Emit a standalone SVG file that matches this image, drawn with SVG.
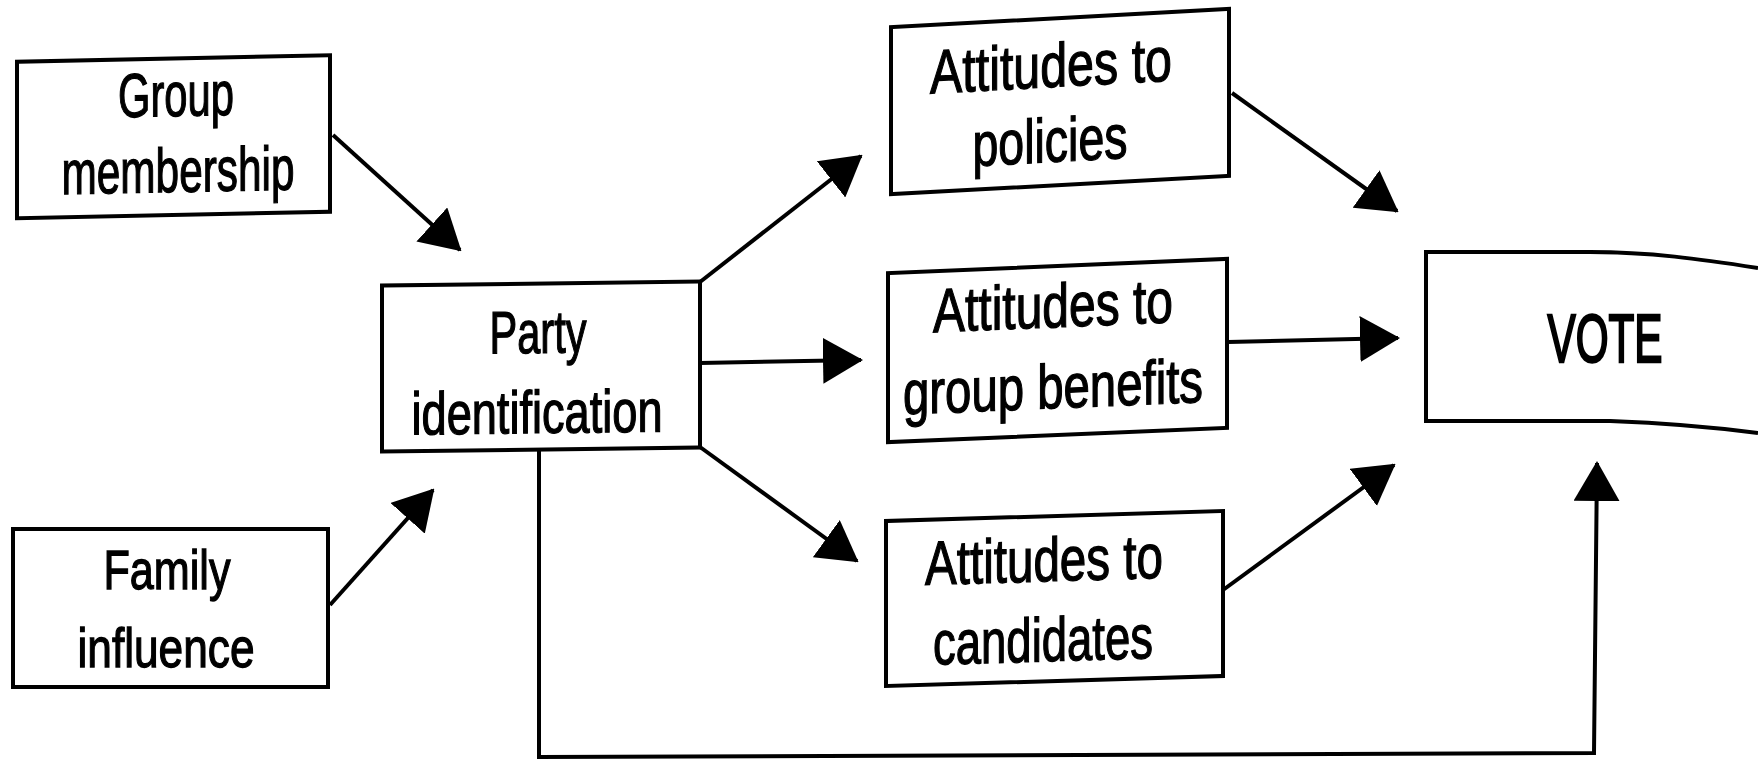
<svg xmlns="http://www.w3.org/2000/svg" width="1758" height="767" viewBox="0 0 1758 767">
<style>
.box{fill:#fff;stroke:#000;stroke-width:4}
.t{font-family:"Liberation Sans Narrow","Liberation Sans",Arial,sans-serif;font-size:62px;fill:#000;stroke:#000;stroke-width:1.3;text-anchor:middle}
.con{fill:none;stroke:#000;stroke-width:4}
</style>
<defs>
<marker id="ah" markerUnits="userSpaceOnUse" viewBox="0 0 40 46" markerWidth="40" markerHeight="46" refX="38" refY="23" orient="auto">
<path d="M0,0 L40,23 L0,46 Z" fill="#000"/>
</marker>
</defs>
<rect width="1758" height="767" fill="#fff"/>
<g id="connectors">
<line class="con" x1="333" y1="135" x2="460" y2="250" marker-end="url(#ah)"/>
<line class="con" x1="330" y1="605" x2="433" y2="490" marker-end="url(#ah)"/>
<line class="con" x1="700" y1="282" x2="861" y2="156" marker-end="url(#ah)"/>
<line class="con" x1="700" y1="363" x2="861" y2="360" marker-end="url(#ah)"/>
<line class="con" x1="700" y1="447" x2="857" y2="561" marker-end="url(#ah)"/>
<line class="con" x1="1232" y1="93" x2="1397" y2="211" marker-end="url(#ah)"/>
<line class="con" x1="1228" y1="342" x2="1398" y2="338" marker-end="url(#ah)"/>
<line class="con" x1="1223" y1="590" x2="1394" y2="465" marker-end="url(#ah)"/>
<polyline class="con" points="539,450 539,757 1594,753 1597,463" marker-end="url(#ah)"/>
</g>
<g id="group-membership" transform="translate(173.5 137) skewY(-1.2) translate(-173.5 -137)">
<rect class="box" x="17" y="58.5" width="313" height="156.5"/>
<text class="t" x="176" y="116" textLength="116" lengthAdjust="spacingAndGlyphs">Group</text>
<text class="t" x="178" y="192" textLength="233" lengthAdjust="spacingAndGlyphs">membership</text>
</g>
<g id="family-influence">
<rect class="box" x="13" y="529" width="315" height="158"/>
<text class="t" x="167" y="589" textLength="127" lengthAdjust="spacingAndGlyphs" style="font-size:56px">Family</text>
<text class="t" x="166" y="667" textLength="177" lengthAdjust="spacingAndGlyphs" style="font-size:56px">influence</text>
</g>
<g id="party-identification" transform="translate(541 366) skewY(-0.7) translate(-541 -366)">
<rect class="box" x="382" y="283.5" width="318" height="166"/>
<text class="t" x="538" y="353" textLength="97" lengthAdjust="spacingAndGlyphs" style="font-size:60px">Party</text>
<text class="t" x="537" y="433" textLength="251" lengthAdjust="spacingAndGlyphs" style="font-size:60px">identification</text>
</g>
<g id="attitudes-policies" transform="translate(1060 101.5) skewY(-3.1) translate(-1060 -101.5)">
<rect class="box" x="891" y="18" width="338" height="167"/>
<text class="t" x="1051" y="86.5" textLength="242" lengthAdjust="spacingAndGlyphs">Attitudes to</text>
<text class="t" x="1050" y="161.5" textLength="155" lengthAdjust="spacingAndGlyphs">policies</text>
</g>
<g id="attitudes-group-benefits" transform="translate(1057.5 350.5) skewY(-2.4) translate(-1057.5 -350.5)">
<rect class="box" x="888" y="266" width="339" height="169"/>
<text class="t" x="1053" y="327" textLength="240" lengthAdjust="spacingAndGlyphs">Attitudes to</text>
<text class="t" x="1053" y="408" textLength="300" lengthAdjust="spacingAndGlyphs">group benefits</text>
</g>
<g id="attitudes-candidates" transform="translate(1054.5 598.5) skewY(-1.7) translate(-1054.5 -598.5)">
<rect class="box" x="886" y="516" width="337" height="165"/>
<text class="t" x="1044" y="581" textLength="238" lengthAdjust="spacingAndGlyphs">Attitudes to</text>
<text class="t" x="1043" y="661" textLength="220" lengthAdjust="spacingAndGlyphs">candidates</text>
</g>
<g id="vote">
<path class="box" d="M1758,268 C1700,259 1650,252 1590,252 L1426,252 L1426,421 L1610,421 C1665,423 1712,427 1758,433"/>
<text class="t" x="1605" y="362" textLength="115" lengthAdjust="spacingAndGlyphs" style="font-size:68px;stroke-width:2.5">VOTE</text>
</g>
</svg>
